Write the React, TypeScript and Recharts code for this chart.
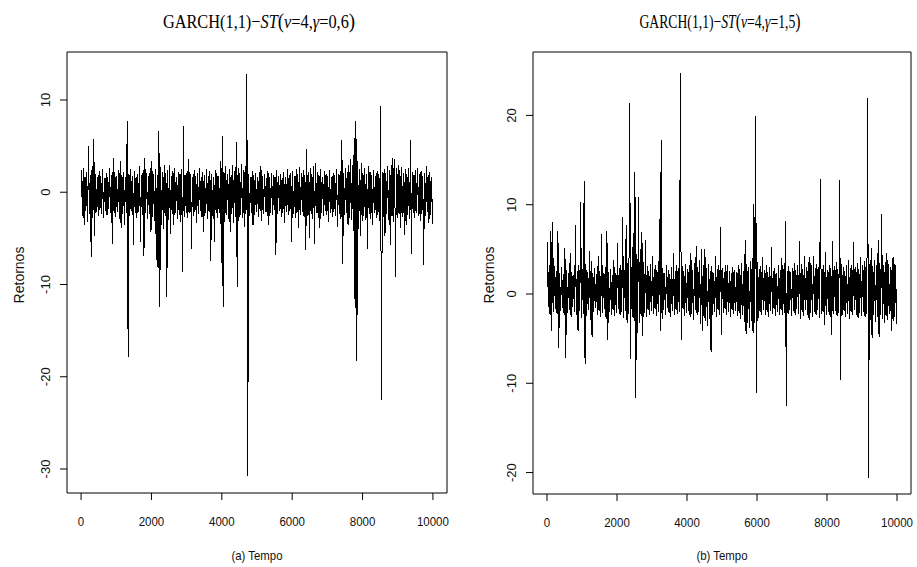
import { LineChart, Line, XAxis, YAxis, ReferenceArea } from 'recharts';

// time axis ticks and value ticks for each panel
const xTicks = [0, 2000, 4000, 6000, 8000, 10000];
const leftYTicks = [10, 0, -10, -20, -30];
const rightYTicks = [20, 10, 0, -10, -20];

// each entry = max / min of the returns inside a block of 50 time steps (200 blocks)
const BIN = 50;

const leftHi = [
  2.4, 2.6, 1.7, 2.2, 5.0, 1.9, 2.8, 5.8, 2.0, 1.6, 2.3, 1.8, 2.5, 1.5, 2.1, 1.7, 2.6, 1.9, 3.7, 2.2,
  1.8, 2.4, 3.4, 1.9, 2.2, 1.6, 7.7, 2.0, 2.5, 1.8, 2.3, 1.7, 2.0, 2.8, 1.9, 2.4, 3.7, 2.1, 1.8, 2.6,
  3.4, 2.0, 2.5, 1.9, 6.6, 2.7, 2.2, 3.0, 2.1, 2.4, 2.9, 1.8, 2.3, 2.6, 1.7, 2.2, 2.0, 2.5, 7.2, 1.9,
  2.3, 3.6, 2.0, 1.6, 2.4, 1.8, 2.1, 2.6, 1.7, 2.2, 1.9, 2.5, 1.8, 2.3, 2.0, 1.6, 2.4, 2.1, 1.8, 3.4,
  6.1, 2.2, 2.8, 2.0, 2.5, 1.9, 2.9, 2.3, 5.4, 2.6, 2.1, 3.1, 2.4, 2.8, 12.8, 2.0, 1.7, 2.3, 1.9, 2.1,
  1.6, 2.2, 2.8, 1.8, 2.0, 1.5, 2.3, 1.7, 2.1, 1.9, 1.6, 2.4, 1.8, 2.0, 1.5, 2.2, 1.7, 2.5, 1.9, 2.1,
  2.3, 1.8, 2.5, 2.0, 2.7, 2.1, 2.4, 1.9, 4.7, 2.2, 2.6, 2.0, 2.8, 3.2, 2.2, 1.9, 2.5, 1.7, 2.3, 2.0,
  1.8, 2.4, 1.7, 2.1, 1.9, 2.5, 2.0, 2.3, 5.7, 2.1, 2.6, 2.2, 2.9, 3.6, 3.0, 5.9, 7.7, 3.4, 2.5, 3.2,
  2.1, 2.6, 2.0, 2.8, 2.2, 1.9, 2.4, 1.8, 2.3, 2.0, 9.3, 2.2, 2.5, 2.1, 2.8, 2.4, 3.0, 3.7, 3.6, 2.6,
  2.9, 2.4, 2.7, 2.1, 2.5, 2.0, 2.6, 5.7, 2.2, 1.9, 2.4, 2.6, 2.0, 2.3, 1.8, 2.1, 2.8, 1.9, 2.2, 1.7,
];

const leftLo = [
  -2.6, -3.6, -2.0, -3.2, -2.4, -7.0, -2.8, -4.7, -2.1, -2.6, -1.9, -2.4, -2.8, -2.0, -2.5, -1.8, -2.3, -5.6, -2.2, -2.7,
  -2.1, -2.9, -3.9, -2.4, -3.6, -2.2, -17.9, -2.6, -2.0, -5.7, -2.3, -2.8, -2.1, -5.4, -2.5, -6.9, -2.2, -2.9, -2.4, -4.3,
  -2.7, -3.1, -7.3, -8.2, -12.4, -3.5, -4.0, -2.6, -11.4, -3.0, -4.5, -2.4, -3.6, -2.2, -2.9, -2.5, -3.2, -8.6, -2.7, -2.3,
  -2.8, -2.2, -6.1, -2.6, -2.1, -3.3, -2.4, -2.0, -2.7, -4.3, -2.3, -2.9, -2.1, -7.4, -2.6, -5.4, -2.3, -2.8, -2.2, -7.7,
  -12.4, -3.2, -2.5, -2.9, -4.3, -2.4, -3.3, -2.7, -10.3, -3.1, -2.5, -2.8, -3.8, -2.4, -30.8, -2.6, -2.2, -3.6, -2.5, -2.1,
  -2.7, -2.0, -3.1, -2.4, -2.1, -2.6, -3.6, -2.2, -2.5, -1.9, -6.8, -2.4, -2.0, -2.7, -2.2, -3.3, -2.1, -2.5, -2.0, -5.4,
  -2.4, -2.8, -2.2, -3.9, -2.5, -2.1, -2.7, -6.3, -2.6, -5.0, -2.4, -2.9, -5.6, -2.3, -2.8, -3.9, -2.2, -2.6, -2.0, -2.5,
  -3.2, -2.3, -2.7, -2.1, -2.6, -3.8, -2.4, -2.9, -7.8, -2.5, -2.2, -3.5, -2.8, -3.0, -4.2, -12.5, -18.3, -4.0, -4.7, -3.1,
  -2.6, -3.0, -6.1, -2.4, -2.9, -3.6, -2.3, -2.8, -2.5, -3.1, -22.5, -2.7, -4.7, -2.4, -3.0, -5.7, -2.6, -3.2, -9.2, -2.8,
  -2.4, -3.9, -2.7, -4.6, -3.6, -2.5, -2.9, -6.7, -2.3, -2.8, -2.2, -2.6, -3.1, -2.4, -7.9, -2.6, -2.1, -3.3, -2.5, -3.4,
];

const rightHi = [
  5.8, 3.2, 7.1, 8.1, 3.1, 2.6, 7.1, 2.4, 3.0, 2.2, 5.2, 2.7, 2.3, 4.6, 2.5, 2.1, 7.7, 2.6, 3.3, 10.3,
  2.8, 12.6, 3.4, 2.5, 4.8, 3.7, 2.4, 2.9, 2.2, 4.3, 2.6, 6.7, 2.3, 3.0, 7.0, 2.5, 2.8, 2.1, 3.8, 2.4,
  5.7, 2.9, 3.2, 8.6, 2.7, 7.7, 3.5, 21.4, 3.0, 6.8, 13.7, 4.5, 10.9, 5.0, 6.9, 3.6, 6.0, 3.1, 2.6, 3.4,
  4.3, 2.8, 3.3, 2.5, 8.4, 17.2, 2.9, 2.4, 3.3, 2.7, 2.2, 3.0, 4.6, 2.6, 3.2, 2.9, 24.7, 3.1, 2.6, 3.4,
  2.8, 3.3, 4.6, 2.7, 3.5, 5.4, 3.0, 3.8, 5.0, 3.2, 5.0, 2.9, 3.4, 2.6, 3.1, 2.4, 4.2, 2.8, 3.3, 7.5,
  2.9, 2.5, 3.2, 3.3, 2.6, 2.3, 3.0, 2.7, 2.5, 3.3, 2.8, 3.5, 2.6, 6.1, 3.4, 3.0, 3.7, 4.0, 10.1, 19.9,
  3.6, 2.8, 3.1, 4.1, 2.7, 3.2, 2.5, 3.0, 5.3, 2.6, 2.9, 2.4, 3.3, 2.7, 4.0, 2.8, 8.2, 2.6, 3.1, 2.5,
  2.9, 3.5, 2.7, 3.3, 5.9, 3.4, 2.8, 4.2, 3.0, 3.6, 4.1, 3.2, 4.2, 2.9, 3.4, 3.0, 12.9, 2.8, 3.2, 4.7,
  2.7, 3.3, 2.9, 5.9, 3.1, 3.6, 2.8, 12.8, 3.4, 3.0, 2.6, 3.2, 3.8, 2.9, 3.3, 5.8, 3.0, 3.5, 2.8, 4.1,
  3.2, 3.7, 3.0, 22.0, 3.4, 5.2, 3.1, 3.8, 3.3, 6.1, 3.5, 9.0, 3.2, 3.6, 4.6, 3.4, 3.0, 4.0, 4.1, 3.3,
];

const rightLo = [
  -1.5, -2.4, -4.2, -2.0, -1.7, -2.2, -6.0, -1.9, -1.6, -2.3, -7.2, -2.1, -1.8, -2.6, -1.5, -2.0, -2.4, -4.2, -1.9, -2.7,
  -2.2, -7.8, -2.5, -1.8, -2.9, -4.8, -2.0, -1.6, -2.4, -1.9, -2.6, -2.1, -1.7, -2.8, -5.2, -2.0, -2.3, -1.8, -2.5, -2.1,
  -1.7, -2.4, -2.0, -2.7, -1.9, -3.3, -2.2, -7.3, -2.6, -3.0, -11.6, -4.4, -3.2, -2.5, -4.7, -2.1, -2.6, -1.8, -2.3, -1.9,
  -2.2, -1.7, -2.5, -2.0, -4.2, -2.8, -1.8, -2.3, -1.6, -2.1, -2.6, -1.9, -2.4, -1.8, -2.2, -2.0, -5.1, -1.7, -2.5, -2.1,
  -1.9, -2.6, -2.2, -2.9, -1.8, -2.4, -2.0, -3.4, -4.2, -2.7, -3.0, -3.6, -2.8, -6.5, -2.4, -2.0, -2.6, -1.8, -2.3, -4.6,
  -2.1, -1.7, -2.4, -2.0, -2.6, -1.8, -2.2, -1.9, -2.5, -2.1, -2.8, -2.3, -3.1, -4.5, -3.3, -3.8, -3.0, -4.4, -3.2, -11.1,
  -2.7, -2.0, -2.4, -1.8, -2.3, -2.0, -2.6, -1.9, -2.2, -1.7, -2.5, -2.0, -2.3, -1.8, -2.4, -2.1, -12.5, -2.2, -1.8, -2.5,
  -1.9, -2.3, -1.7, -2.2, -2.8, -2.0, -2.5, -1.8, -2.3, -2.9, -2.1, -2.6, -2.0, -2.4, -1.8, -2.7, -2.2, -2.0, -3.5, -2.3,
  -2.0, -2.6, -4.6, -2.2, -1.9, -2.5, -2.1, -9.6, -2.4, -1.9, -2.6, -2.2, -2.8, -2.0, -2.4, -1.8, -2.3, -2.7, -2.1, -2.5,
  -2.0, -2.6, -2.2, -20.6, -2.9, -4.9, -2.4, -3.1, -2.6, -4.8, -2.3, -2.8, -3.2, -2.5, -2.9, -2.2, -4.1, -3.0, -2.6, -3.4,
];

const SANS = '"Liberation Sans", Arial, sans-serif';
const SERIF = '"Liberation Serif", "Times New Roman", serif';

function buildSeries(hi: number[], lo: number[]) {
  const rows: { t: number; v: number }[] = [];
  hi.forEach((h, i) => {
    rows.push({ t: i * BIN + 12, v: h });
    rows.push({ t: i * BIN + 37, v: lo[i] });
  });
  return rows;
}

function XTick({ x, y, payload }: any) {
  const s = String(payload.value);
  return (
    <text
      x={x}
      y={y}
      dy={24}
      textAnchor="middle"
      fontFamily={SANS}
      fontSize={13}
      fill="#111"
      textLength={s.length * 6.4}
      lengthAdjust="spacingAndGlyphs"
    >
      {s}
    </text>
  );
}

function YTick({ x, y, payload }: any) {
  return (
    <text
      transform={`translate(${x - 8},${y}) rotate(-90)`}
      textAnchor="middle"
      fontFamily={SANS}
      fontSize={13}
      fill="#111"
    >
      {String(payload.value)}
    </text>
  );
}

interface PanelProps {
  hi: number[];
  lo: number[];
  yTicks: number[];
  yDomain: [number, number];
  gamma: string;
  xLabel: string;
  width: number;
  margin: { top: number; right: number; bottom: number; left: number };
  titleX: number;
  titleScale: number;
  yLabelX: number;
  xLabelX: number;
}

function Panel(p: PanelProps) {
  const data = buildSeries(p.hi, p.lo);
  return (
    <LineChart width={p.width} height={567} data={data} margin={p.margin}>
      <XAxis
        dataKey="t"
        type="number"
        domain={[-400, 10400]}
        ticks={xTicks}
        axisLine={false}
        tickSize={7}
        tickMargin={2}
        tickLine={{ stroke: '#000' }}
        tick={<XTick />}
        height={60}
        interval={0}
      />
      <YAxis
        type="number"
        domain={p.yDomain}
        ticks={p.yTicks}
        axisLine={false}
        tickSize={7}
        tickMargin={2}
        tickLine={{ stroke: '#000' }}
        tick={<YTick />}
        width={60}
        interval={0}
      />
      <ReferenceArea
        x1={-400}
        x2={10400}
        y1={p.yDomain[0]}
        y2={p.yDomain[1]}
        fill="none"
        fillOpacity={0}
        stroke="#000"
        strokeWidth={1}
        ifOverflow="visible"
      />
      <Line
        dataKey="v"
        type="linear"
        stroke="#000"
        strokeWidth={1}
        shapeRendering="crispEdges"
        dot={false}
        activeDot={false}
        isAnimationActive={false}
      />
      <text
        transform={`translate(${p.titleX},28) scale(${p.titleScale},1)`}
        textAnchor="middle"
        fontFamily={SERIF}
        fontSize={19}
        fill="#000"
      >
        GARCH(1,1)−<tspan fontStyle="italic">ST</tspan>
        <tspan fontSize={22}>(</tspan>
        <tspan fontStyle="italic">ν</tspan>=4,<tspan fontStyle="italic">γ</tspan>={p.gamma}
        <tspan fontSize={22}>)</tspan>
      </text>
      <text
        transform={`translate(${p.yLabelX},275) rotate(-90)`}
        textAnchor="middle"
        fontFamily={SANS}
        fontSize={14}
        fill="#111"
      >
        Retornos
      </text>
      <text
        x={p.xLabelX}
        y={560}
        textAnchor="middle"
        fontFamily={SANS}
        fontSize={13}
        fill="#111"
        textLength={51}
        lengthAdjust="spacingAndGlyphs"
      >
        {p.xLabel}
      </text>
    </LineChart>
  );
}

export default function App() {
  return (
    <div style={{ position: 'absolute', left: 0, top: 0, width: 917, height: 567, background: '#fff' }}>
      <div style={{ position: 'absolute', left: 0, top: 0 }}>
        <Panel
          hi={leftHi}
          lo={leftLo}
          yTicks={leftYTicks}
          yDomain={[-32.6, 15.2]}
          gamma="0,6"
          xLabel="(a) Tempo"
          width={460}
          margin={{ top: 52, right: 13, bottom: 14, left: 7 }}
          titleX={259}
          titleScale={0.86}
          yLabelX={24}
          xLabelX={257}
        />
      </div>
      <div style={{ position: 'absolute', left: 460, top: 0 }}>
        <Panel
          hi={rightHi}
          lo={rightLo}
          yTicks={rightYTicks}
          yDomain={[-22.4, 27.1]}
          gamma="1,5"
          xLabel="(b) Tempo"
          width={457}
          margin={{ top: 52, right: 6, bottom: 13, left: 13 }}
          titleX={260}
          titleScale={0.72}
          yLabelX={34}
          xLabelX={262}
        />
      </div>
    </div>
  );
}
